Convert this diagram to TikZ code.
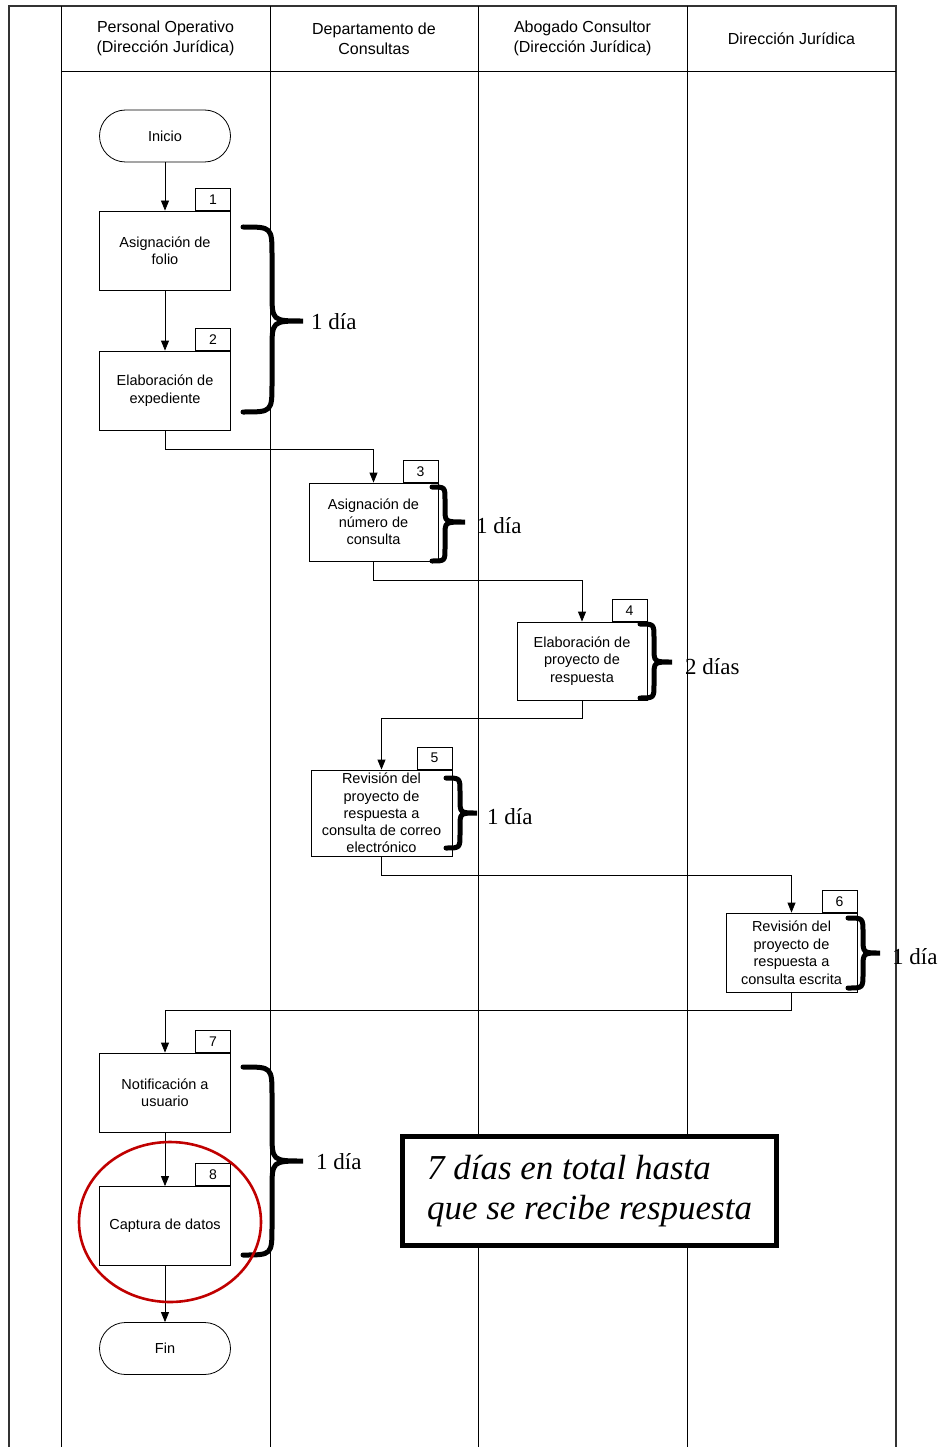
\documentclass[tikz,border=0pt]{standalone}
\usepackage{fontspec}
\setmainfont{Liberation Serif}
\newfontfamily\arialf{Liberation Sans}
\usetikzlibrary{arrows.meta}
\definecolor{redc}{RGB}{192,0,0}
\newcommand{\mybrace}[6]{%
  \draw[bracestyle] (#1,#4) .. controls (#2,#4) .. (#2,{#4+(#2-#1)})
    -- (#2,{#5-(#2-#1)}) .. controls (#2,#5) .. (#3,#5)
    .. controls (#2,#5) .. (#2,{#5+(#2-#1)})
    -- (#2,{#6-(#2-#1)}) .. controls (#2,#6) .. (#1,#6);}
\begin{document}
\begin{tikzpicture}[x=1pt,y=-1pt,
  proc/.style={draw, fill=white, line width=0.8pt, minimum width=131pt, minimum height=79pt, inner sep=2pt, align=center, font=\arialf\fontsize{14.5}{17.5}\selectfont},
  num/.style={draw, fill=white, line width=0.8pt, minimum width=35pt, minimum height=22pt, inner sep=0pt, anchor=south east, font=\arialf\fontsize{14}{16}\selectfont},
  term/.style={draw, fill=white, line width=0.8pt, rounded corners=26pt, minimum width=131pt, minimum height=52pt, font=\arialf\fontsize{14.5}{17}\selectfont},
  hdr/.style={align=center, font=\arialf\fontsize{16}{20}\selectfont},
  arr/.style={line width=0.8pt, -{Triangle[length=10pt,width=8pt]}},
  bracestyle/.style={line width=5pt, line cap=round},
  dia/.style={font=\fontsize{23}{26}\selectfont, anchor=west, inner sep=0pt},
  lane/.style={line width=0.8pt},
  frameline/.style={line width=1.6pt, draw=black!80},
  bigbox/.style={draw, fill=white, line width=5pt, minimum width=374pt, minimum height=109pt, inner sep=0pt, align=left, font=\itshape\fontsize{35}{40}\selectfont}
]
\useasboundingbox (0,0) rectangle (941,1447);
% frame and lanes
\draw[frameline] (9,1447) -- (9,6) -- (896,6) -- (896,1447);
\foreach \xx in {61,270,478,687} \draw[lane] (\xx,6) -- (\xx,1447);
\draw[lane] (61,71) -- (896,71);
% headers
\node[hdr] (h1) at (165.5,38.5) {Personal Operativo\\(Dirección Jurídica)};
\node[hdr] (h2) at (374,38.5) {Departamento de\\Consultas};
\node[hdr] (h3) at (582.5,38.5) {Abogado Consultor\\(Dirección Jurídica)};
\node[hdr] (h4) at (791.5,38.5) {Dirección Jurídica};
% nodes
\node[term] (start) at (165,136) {Inicio};
\node[proc] (b1) at (165,250.5) {Asignación de\\folio};
\node[proc] (b2) at (165,390.5) {Elaboración de\\expediente};
\node[proc, minimum width=129pt, minimum height=78pt] (b3) at (373.5,522) {Asignación de\\número de\\consulta};
\node[proc, minimum width=130pt, minimum height=78pt] (b4) at (582,661) {Elaboración de\\proyecto de\\respuesta};
\node[proc, minimum width=141pt, minimum height=86pt, inner sep=0pt, font=\arialf\fontsize{14.5}{17.2}\selectfont] (b5) at (381.5,813) {Revisión del\\proyecto de\\respuesta a\\consulta de correo\\electrónico};
\node[proc] (b6) at (791.5,952.5) {Revisión del\\proyecto de\\respuesta a\\consulta escrita};
\node[proc] (b7) at (165,1092.5) {Notificación a\\usuario};
\node[proc] (b8) at (165,1226) {Captura de datos};
\node[term] (fin) at (165,1348.5) {Fin};
% number boxes
\node[num] (n1) at (b1.north east) {1};
\node[num] (n2) at (b2.north east) {2};
\node[num] (n3) at (b3.north east) {3};
\node[num] (n4) at (b4.north east) {4};
\node[num] (n5) at (b5.north east) {5};
\node[num] (n6) at (b6.north east) {6};
\node[num] (n7) at (b7.north east) {7};
\node[num] (n8) at (b8.north east) {8};
% connectors
\draw[arr] (start) -- (b1);
\draw[arr] (b1) -- (b2);
\draw[arr] (b2.south) -- ++(0,19) -| (b3.north);
\draw[arr] (b3.south) -- ++(0,19) -| (b4.north);
\draw[arr] (b4.south) -- ++(0,18) -| (b5.north);
\draw[arr] (b5.south) -- ++(0,19) -| (b6.north);
\draw[arr] (b6.south) -- ++(0,18) -| (b7.north);
\draw[arr] (b7) -- (b8);
\draw[arr] (b8) -- (fin);
% braces
\mybrace{243}{272}{303}{227}{321}{412}
\mybrace{432}{445}{465}{487}{522}{561}
\mybrace{640}{654}{672}{624}{662}{698}
\mybrace{446}{460}{477}{778}{813}{848}
\mybrace{848}{863}{880}{918}{953}{988}
\mybrace{243}{272}{303}{1067}{1161}{1255}
\node[dia] (d1) at (311,322) {1 día};
\node[dia] (d3) at (476,526) {1 día};
\node[dia] (d4) at (685,667) {2 días};
\node[dia] (d5) at (487,817) {1 día};
\node[dia] (d6) at (892,957) {1 día};
\node[dia] (d7) at (316,1162) {1 día};
% red ellipse
\draw[redc, line width=2.6pt] (170,1222) ellipse [x radius=91, y radius=80];
% total box
\node[bigbox] (tot) at (589.5,1191) {7 días en total hasta\\que se recibe respuesta};
\end{tikzpicture}
\end{document}
